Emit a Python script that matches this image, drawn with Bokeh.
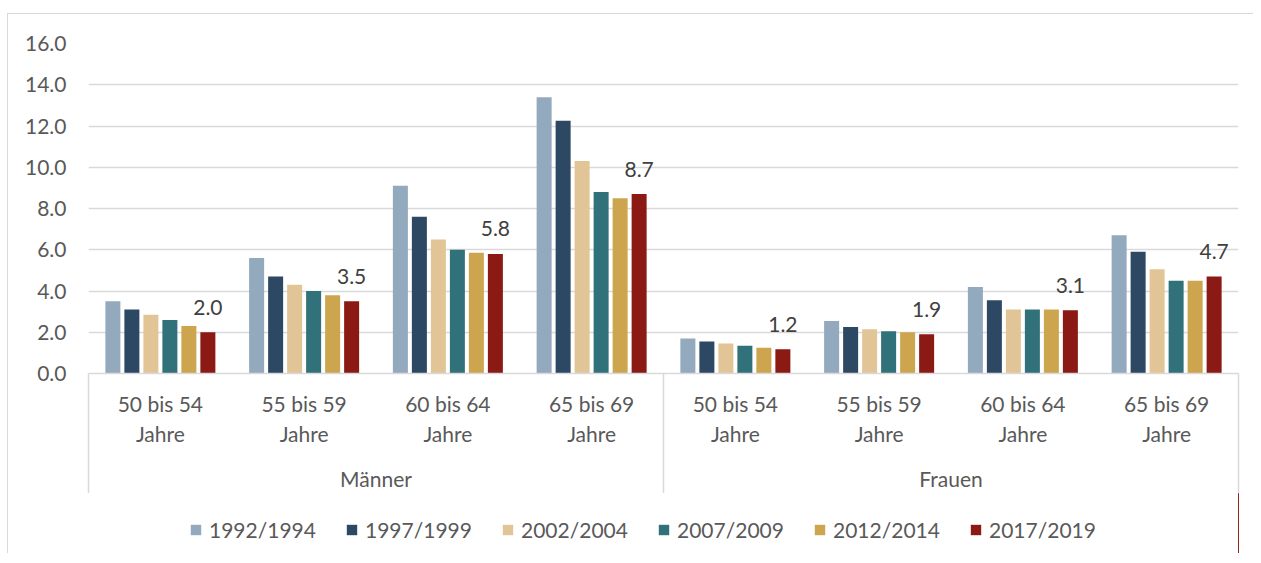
from bokeh.plotting import figure
from bokeh.layouts import column
from bokeh.models import (ColumnDataSource, Range1d, FixedTicker, LinearAxis, Legend,
                          LegendItem, NumeralTickFormatter)
from bokeh.transform import dodge
from bokeh.core.properties import value
from bokeh.embed import file_html
from bokeh.resources import INLINE

# ---- data -------------------------------------------------------------
sexes = ["Männer", "Frauen"]
age_groups = ["50 bis 54\nJahre", "55 bis 59\nJahre", "60 bis 64\nJahre", "65 bis 69\nJahre"]
series = ["1992/1994", "1997/1999", "2002/2004", "2007/2009", "2012/2014", "2017/2019"]
#            Männer 50-54 .. 65-69        Frauen 50-54 .. 65-69
v1992 = [3.5, 5.6, 9.1, 13.4, 1.7, 2.55, 4.2, 6.7]
v1997 = [3.1, 4.7, 7.6, 12.25, 1.55, 2.25, 3.55, 5.9]
v2002 = [2.85, 4.3, 6.5, 10.3, 1.45, 2.15, 3.1, 5.05]
v2007 = [2.6, 4.0, 6.0, 8.8, 1.35, 2.05, 3.1, 4.5]
v2012 = [2.3, 3.8, 5.85, 8.5, 1.25, 2.0, 3.1, 4.5]
v2017 = [2.0, 3.5, 5.8, 8.7, 1.17, 1.9, 3.07, 4.7]
y_ticks = [0, 2, 4, 6, 8, 10, 12, 14, 16]

colors = ["#93A9BE", "#2C4863", "#E2C596", "#317179", "#CCA54E", "#8B1914"]
FONT = "Lato"
FS = "21px"
GRAY = "#595959"
LINE = "#d9d9d9"

n_cat = len(sexes) * len(age_groups)
cat_x = [i + 0.5 for i in range(n_cat)]
src = ColumnDataSource(dict(
    x=cat_x,
    v1992=v1992, v1997=v1997, v2002=v2002, v2007=v2007, v2012=v2012, v2017=v2017,
    lbl=[f"{v:.1f}" for v in v2017],
))
cols = ["v1992", "v1997", "v2002", "v2007", "v2012", "v2017"]

p = figure(x_range=Range1d(0, n_cat), y_range=Range1d(0, 16),
           frame_width=1150, frame_height=330,
           min_border_left=80, min_border_right=15, min_border_top=29, min_border_bottom=0,
           x_axis_type=None, output_backend="svg", toolbar_location=None,
           outline_line_color=None, background_fill_color="white")

step = 19 / 143.75
bw = 15 / 143.75

for k, (c, col) in enumerate(zip(colors, cols)):
    p.vbar(x=dodge("x", (k - 2.5) * step, range=p.x_range), top=col, width=bw,
           source=src, fill_color=c, line_color=None)

p.text(x=dodge("x", 2.5 * step, range=p.x_range), y="v2017", text="lbl", source=src,
       text_align="center", text_baseline="middle", y_offset=-25,
       text_font=value(FONT), text_font_size=FS, text_color="#404040")

# y axis
ya = p.yaxis[0]
ya.ticker = FixedTicker(ticks=y_ticks)
ya.formatter = NumeralTickFormatter(format="0.0")
ya.axis_line_color = None
ya.major_tick_line_color = None
ya.minor_tick_line_color = None
ya.major_tick_out = 0
ya.major_label_standoff = 22
ya.major_label_text_font = FONT
ya.major_label_text_font_size = FS
ya.major_label_text_color = GRAY

p.ygrid.grid_line_color = LINE
p.ygrid.grid_line_width = 1.5

# x axis: age groups, with the group separators as long minor ticks
overrides = {}
for i in range(n_cat):
    overrides[cat_x[i]] = age_groups[i % len(age_groups)]
ax1 = LinearAxis(ticker=FixedTicker(ticks=cat_x, minor_ticks=[0, 4, 8]),
                 major_label_overrides=overrides)
ax1.axis_line_color = LINE
ax1.axis_line_width = 1.5
ax1.major_tick_line_color = None
ax1.major_tick_out = 0
ax1.major_tick_in = 0
ax1.minor_tick_line_color = LINE
ax1.minor_tick_line_width = 1.5
ax1.minor_tick_out = 122
ax1.minor_tick_in = 0
ax1.major_label_standoff = 17 - 122
ax1.major_label_text_font = FONT
ax1.major_label_text_font_size = FS
ax1.major_label_text_color = GRAY
ax1.major_label_text_line_height = 1.2
p.add_layout(ax1, "below")

# second level: sex
ax2 = LinearAxis(ticker=FixedTicker(ticks=[2, 6]),
                 major_label_overrides={2: sexes[0], 6: sexes[1]})
ax2.axis_line_color = None
ax2.major_tick_line_color = None
ax2.minor_tick_line_color = None
ax2.major_tick_out = 0
ax2.major_tick_in = 0
ax2.major_label_standoff = 17
ax2.major_label_text_font = FONT
ax2.major_label_text_font_size = FS
ax2.major_label_text_color = GRAY
p.add_layout(ax2, "below")

# ---- legend strip below the chart ---------------------------------------
# the same bars are drawn here outside the visible range; they only feed the legend
pl = figure(width=1245, height=60, x_range=Range1d(-10, -9), y_range=Range1d(0, 1),
            x_axis_type=None, y_axis_type=None,
            min_border_left=0, min_border_right=0, min_border_top=0, min_border_bottom=0,
            output_backend="svg", toolbar_location=None, outline_line_color=None)
pl.grid.visible = False
proxies = [pl.vbar(x="x", top=col, width=bw, source=src, fill_color=c, line_color=None)
           for c, col in zip(colors, cols)]

legend = Legend(items=[LegendItem(label=s, renderers=[r]) for s, r in zip(series, proxies)],
                orientation="horizontal", location=(101, 11),
                glyph_width=13, glyph_height=13, label_standoff=7, spacing=0,
                label_width=136, label_height=26,
                padding=0, margin=0, border_line_color=None, background_fill_alpha=0,
                label_text_font=FONT, label_text_font_size=FS, label_text_color=GRAY)
pl.add_layout(legend, "center")

layout = column(p, pl, spacing=0,
                styles={"border-top": "1px solid #d9d9d9", "border-left": "1px solid #d9d9d9",
                        "margin-top": "13px", "margin-left": "7px"})

open("out.html", "w").write(file_html(layout, INLINE))
